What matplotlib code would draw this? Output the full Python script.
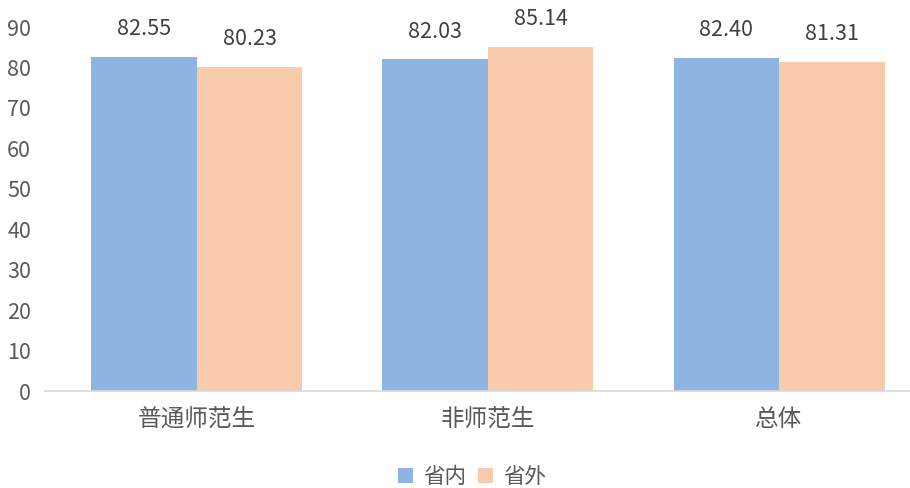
import matplotlib
matplotlib.use("Agg")
import matplotlib.pyplot as plt
import numpy as np

plt.rcParams["font.family"] = ["Noto Sans CJK SC", "DejaVu Sans"]

categories = ["普通师范生", "非师范生", "总体"]
series_names = ["省内", "省外"]
inside = [82.55, 82.03, 82.40]
outside = [80.23, 85.14, 81.31]
y_ticks = [0, 10, 20, 30, 40, 50, 60, 70, 80, 90]

colors = ["#8EB4E3", "#F8CBAD"]
text_color = "#595959"

fig = plt.figure(figsize=(9.10, 4.88), dpi=100)
ax = fig.add_axes([45 / 910, 1 - 391 / 488, 1 - 45 / 910, (391 - 27) / 488])

x = np.arange(len(categories))
width = 0.3625
bars1 = ax.bar(x - width / 2, inside, width, color=colors[0], label=series_names[0])
bars2 = ax.bar(x + width / 2, outside, width, color=colors[1], label=series_names[1])

for bars, vals in [(bars1, inside), (bars2, outside)]:
    for b, v in zip(bars, vals):
        ax.annotate(f"{v:.2f}", (b.get_x() + b.get_width() / 2, v),
                    xytext=(0, 12), textcoords="offset points",
                    ha="center", va="bottom", fontsize=15.5, color="#404040")

ax.set_xlim(-0.522, 2.45)
ax.set_ylim(0, 90)
ax.set_yticks(y_ticks)
ax.set_xticks(x)
ax.set_xticklabels(categories, fontsize=17, color=text_color)
ax.tick_params(axis="y", labelsize=15.5, labelcolor=text_color, length=0, pad=10)
ax.tick_params(axis="x", length=0, pad=12)
for s in ["top", "right", "left"]:
    ax.spines[s].set_visible(False)
ax.spines["bottom"].set_color("#D9D9D9")
ax.spines["bottom"].set_linewidth(1.2)

fig.legend(handles=[bars1, bars2], labels=series_names, loc="center",
           bbox_to_anchor=(472 / 910, 1 - 477 / 488), ncol=2, frameon=False,
           fontsize=15.5, labelcolor=text_color, handlelength=0.7, handleheight=0.7,
           handletextpad=0.47, columnspacing=0.55)

fig.savefig("out.png", dpi=100)
